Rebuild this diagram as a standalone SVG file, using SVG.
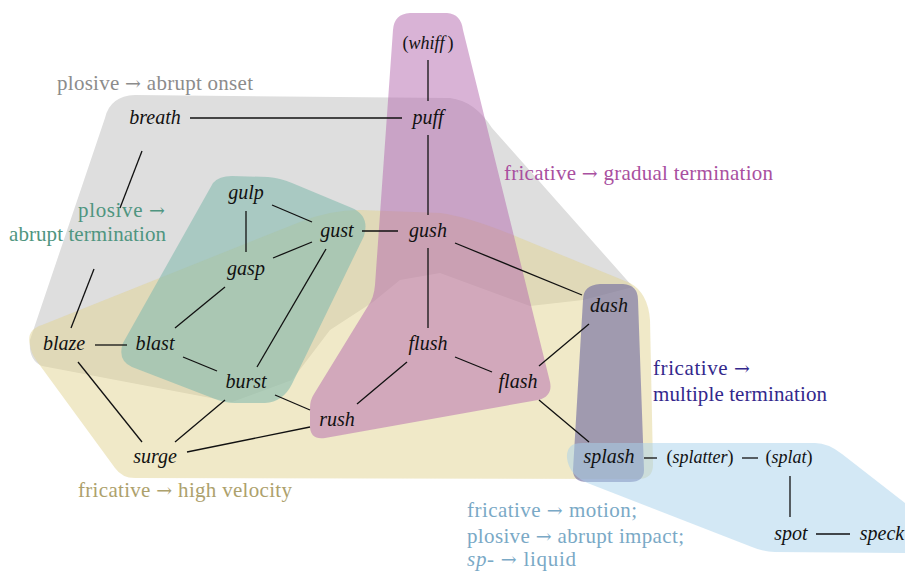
<svg xmlns="http://www.w3.org/2000/svg" width="905" height="572" viewBox="0 0 905 572">
<style>
.n{font-family:"Liberation Serif","Times New Roman",serif;font-size:20px;font-style:italic;fill:#111;text-anchor:middle}
.p{font-family:"Liberation Serif","Times New Roman",serif;font-size:18px;fill:#111;text-anchor:middle}
.i{font-style:italic}
.lab{font-family:"Liberation Serif","Times New Roman",serif;font-size:21px}
.ar{font-family:"DejaVu Serif","DejaVu Sans",serif;font-size:19px}
.e{stroke:#111;stroke-width:1.3;fill:none}
</style>
<g id="regions">
<path id="r-onset" fill="#dedede" d="M 105,118 Q 110,96 135,95 L 450,98 Q 475,101 492,128 L 633,287 L 583,300 L 530,306 L 440,273 L 400,280 L 373,302 L 330,330 L 292,380 L 232,402 L 42,366 Q 28,360 30,340 Z"/>
<path id="r-velocity" fill="#e1d391" fill-opacity="0.5" d="M 30,345 Q 26,330 42,325 L 300,222 Q 330,210 360,210 L 440,213 Q 470,217 520,238 L 630,283 Q 648,293 650,320 L 653,465 Q 653,479 638,479 L 135,478 Q 122,478 115,468 L 36,360 Q 31,353 30,345 Z"/>
<path id="r-termination" fill="#86bbaf" fill-opacity="0.6" d="M 213,183 Q 219,176 232,176 L 268,177 Q 280,178 292,183 L 352,208 Q 370,216 364,236 L 292,384 Q 283,402 265,403 L 235,403 Q 225,403 215,399 L 132,367 Q 117,360 123,343 Z"/>
<path id="r-gradual" fill="#b367ad" fill-opacity="0.5" d="M 393,30 Q 394,14 410,13 L 447,13 Q 461,14 463,30 L 550,382 Q 553,396 538,400 L 325,438 Q 310,440 310,426 L 310,408 Q 310,400 314,394 L 368,306 Q 374,298 375,285 Z"/>
<path id="r-multiple" fill="#6b659e" fill-opacity="0.6" d="M 583,300 Q 583,285 600,284 L 623,284 Q 638,285 638,300 L 644,470 Q 644,482 630,482 L 587,482 Q 573,482 573,470 Z"/>
<path id="r-motion" fill="#a7d1eb" fill-opacity="0.5" d="M 567,458 Q 566,443 582,443 L 815,443 Q 828,443 842,454 L 905,503 L 905,553 L 775,552 Q 764,552 752,547 L 590,484 Q 569,476 567,458 Z"/>
</g>
<g id="labels">
<text class="lab" x="57" y="90" fill="#8c8c8c" textLength="196">plosive <tspan class="ar">→</tspan> abrupt onset</text>
<text class="lab" x="78" y="217" fill="#4f9580" textLength="87">plosive <tspan class="ar">→</tspan></text>
<text class="lab" x="9" y="241" fill="#4f9580" textLength="157">abrupt termination</text>
<text class="lab" x="504" y="180" fill="#a9509f" textLength="269">fricative <tspan class="ar">→</tspan> gradual termination</text>
<text class="lab" x="653" y="375" fill="#33288c" textLength="97">fricative <tspan class="ar">→</tspan></text>
<text class="lab" x="653" y="401" fill="#33288c" textLength="174">multiple termination</text>
<text class="lab" x="78" y="497" fill="#ada16c" textLength="214">fricative <tspan class="ar">→</tspan> high velocity</text>
<text class="lab" x="467" y="517" fill="#7aa9c6" textLength="170">fricative <tspan class="ar">→</tspan> motion;</text>
<text class="lab" x="467" y="543" fill="#7aa9c6" textLength="217">plosive <tspan class="ar">→</tspan> abrupt impact;</text>
<text class="lab" x="467" y="566" fill="#7aa9c6" textLength="109"><tspan class="i">sp-</tspan> <tspan class="ar">→</tspan> liquid</text>
</g>
<g id="connectors">
<line class="e" x1="190" y1="118" x2="402" y2="118"/>
<line class="e" x1="428" y1="60" x2="428" y2="101"/>
<line class="e" x1="428" y1="135" x2="428" y2="215"/>
<line class="e" x1="362" y1="231" x2="398" y2="231"/>
<line class="e" x1="272" y1="205" x2="312" y2="222"/>
<line class="e" x1="246" y1="211" x2="246" y2="252"/>
<line class="e" x1="312" y1="242" x2="273" y2="258"/>
<line class="e" x1="326" y1="249" x2="257" y2="367"/>
<line class="e" x1="225" y1="287" x2="175" y2="328"/>
<line class="e" x1="95" y1="345" x2="127" y2="345"/>
<line class="e" x1="183" y1="357" x2="217" y2="371"/>
<line class="e" x1="78" y1="362" x2="142" y2="442"/>
<line class="e" x1="225" y1="400" x2="175" y2="442"/>
<line class="e" x1="187" y1="452" x2="310" y2="427"/>
<line class="e" x1="275" y1="395" x2="310" y2="410"/>
<line class="e" x1="407" y1="362" x2="357" y2="404"/>
<line class="e" x1="428" y1="248" x2="428" y2="328"/>
<line class="e" x1="455" y1="357" x2="492" y2="372"/>
<line class="e" x1="455" y1="243" x2="582" y2="295"/>
<line class="e" x1="589" y1="324" x2="539" y2="366"/>
<line class="e" x1="539" y1="400" x2="589" y2="442"/>
<line class="e" x1="644" y1="458" x2="657" y2="458"/>
<line class="e" x1="742" y1="458" x2="758" y2="458"/>
<line class="e" x1="790" y1="476" x2="790" y2="517"/>
<line class="e" x1="816" y1="534" x2="850" y2="534"/>
<line class="e" x1="142" y1="151" x2="120" y2="208"/>
<line class="e" x1="94" y1="269" x2="71" y2="328"/>
</g>
<g id="n-whiff"><text class="p" x="428" y="49">(<tspan class="i">whiff</tspan><tspan dx="3">)</tspan></text></g>
<g id="n-puff"><text class="n" x="428" y="124">puff</text></g>
<g id="n-breath"><text class="n" x="155" y="124">breath</text></g>
<g id="n-gulp"><text class="n" x="246" y="199">gulp</text></g>
<g id="n-gust"><text class="n" x="337" y="237">gust</text></g>
<g id="n-gush"><text class="n" x="428" y="237">gush</text></g>
<g id="n-gasp"><text class="n" x="246" y="275">gasp</text></g>
<g id="n-dash"><text class="n" x="609" y="312">dash</text></g>
<g id="n-blaze"><text class="n" x="64" y="350">blaze</text></g>
<g id="n-blast"><text class="n" x="155" y="350">blast</text></g>
<g id="n-flush"><text class="n" x="428" y="350">flush</text></g>
<g id="n-burst"><text class="n" x="246" y="388">burst</text></g>
<g id="n-flash"><text class="n" x="518" y="388">flash</text></g>
<g id="n-rush"><text class="n" x="337" y="426">rush</text></g>
<g id="n-surge"><text class="n" x="155" y="463">surge</text></g>
<g id="n-splash"><text class="n" x="609" y="463">splash</text></g>
<g id="n-splatter"><text class="p" x="700" y="463">(<tspan class="i">splatter</tspan>)</text></g>
<g id="n-splat"><text class="p" x="789" y="463">(<tspan class="i">splat</tspan>)</text></g>
<g id="n-spot"><text class="n" x="791" y="540">spot</text></g>
<g id="n-speck"><text class="n" x="882" y="540">speck</text></g>
</svg>
